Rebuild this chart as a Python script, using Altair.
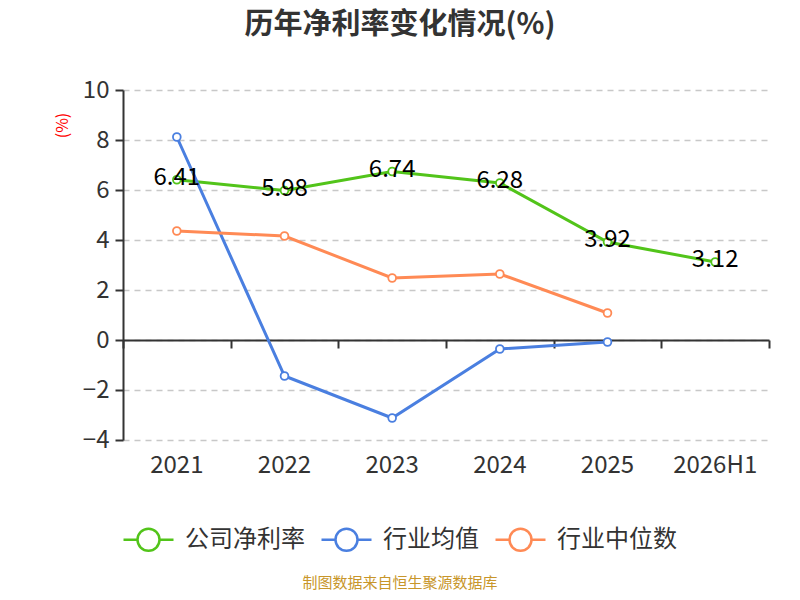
import altair as alt
import pandas as pd

years = ["2021", "2022", "2023", "2024", "2025", "2026H1"]
company = [6.41, 5.98, 6.74, 6.28, 3.92, 3.12]
ind_avg = [8.12, -1.44, -3.12, -0.36, -0.08, None]
ind_med = [4.36, 4.16, 2.48, 2.64, 1.08, None]
series_names = ["公司净利率", "行业均值", "行业中位数"]
colors = ["#52C41A", "#4A7FE0", "#FF8A55"]

rows = []
for s, vals in zip(series_names, [company, ind_avg, ind_med]):
    for y, v in zip(years, vals):
        if v is not None:
            rows.append({"year": y, "value": v, "series": s})
df = pd.DataFrame(rows)
comp_df = pd.DataFrame({"year": years, "value": company})

FONT = "Noto Sans CJK SC"
W, H = 646, 350

xscale = alt.Scale(domain=years, paddingInner=0, paddingOuter=0)
yscale = alt.Scale(domain=[-4, 10], nice=False, zero=False)

color = alt.Color(
    "series:N",
    scale=alt.Scale(domain=series_names, range=colors),
    sort=series_names,
    legend=alt.Legend(
        title=None,
        orient="none",
        legendX=-1,
        legendY=423,
        direction="horizontal",
        symbolType="M-1,0 L-0.44,0 M0.44,0 L1,0 M-0.44,0 A0.44,0.44 0 1,1 0.44,0 A0.44,0.44 0 1,1 -0.44,0",
        symbolSize=2500,
        symbolStrokeWidth=2.5,
        symbolFillColor="white",
        labelFontSize=24,
        labelFont=FONT,
        labelColor="#333333",
        labelOffset=10,
        columnPadding=11,
    ),
)

base = alt.Chart(df)

lines = base.mark_line(strokeWidth=3).encode(
    x=alt.X(
        "year:N",
        scale=xscale,
        sort=years,
        axis=alt.Axis(
            title=None,
            domain=False,
            ticks=False,
            grid=False,
            labelFontSize=24,
            labelFont=FONT,
            labelColor="#333333",
            labelPadding=13,
            labelAngle=0,
        ),
    ),
    y=alt.Y(
        "value:Q",
        scale=yscale,
        axis=alt.Axis(
            title="(%)",
            titleColor="red",
            titleFontSize=16,
            titleFont=FONT,
            titleFontWeight="normal",
            titleAngle=270,
            titleX=62 - 123,
            titleY=35,
            titleAlign="center",
            titleBaseline="middle",
            values=[-4, -2, 0, 2, 4, 6, 8, 10],
            domain=True,
            domainColor="#333333",
            domainWidth=2,
            ticks=True,
            tickColor="#333333",
            tickSize=8,
            tickWidth=2,
            labelFontSize=24,
            labelFont=FONT,
            labelColor="#333333",
            labelPadding=6,
            grid=True,
            gridDash=[6, 5],
            gridColor="#C8C8C8",
            gridWidth=1.5,
        ),
    ),
    color=color,
    order=alt.Order("year:N"),
)

points = base.mark_point(filled=True, fill="white", size=60, strokeWidth=1.8, opacity=1).encode(
    x=alt.X("year:N", scale=xscale, sort=years, axis=None),
    y=alt.Y("value:Q", scale=yscale),
    stroke=alt.Stroke("series:N", scale=alt.Scale(domain=series_names, range=colors), legend=None),
)

labels = alt.Chart(comp_df).mark_text(
    fontSize=24, font=FONT, color="black", baseline="middle", align="center", dy=-2
).encode(
    x=alt.X("year:N", scale=xscale, sort=years, axis=None),
    y=alt.Y("value:Q", scale=yscale),
    text=alt.Text("value:Q", format=".2f"),
)

zero_axis = alt.Chart(comp_df).mark_point(opacity=0).encode(
    x=alt.X(
        "year:N",
        scale=xscale,
        sort=years,
        axis=alt.Axis(
            orient="bottom",
            offset=-100,
            title=None,
            labels=False,
            domain=True,
            domainColor="#333333",
            domainWidth=2,
            ticks=True,
            tickColor="#333333",
            tickWidth=2,
            tickSize=8,
            tickBand="extent",
            grid=False,
        ),
    ),
    y=alt.Y("value:Q", scale=yscale),
)

source = alt.Chart(pd.DataFrame({"t": ["制图数据来自恒生聚源数据库"]})).mark_text(
    fontSize=15, font=FONT, color="#C8962A", align="center", baseline="middle"
).encode(
    x=alt.value(400 - 123),
    y=alt.value(583 - 90),
    text="t:N",
)

chart = (
    alt.layer(lines, points, labels, zero_axis, source)
    .resolve_axis(x="independent")
    .properties(
        width=W,
        height=H,
        autosize=alt.AutoSizeParams(type="none"),
        padding={"left": 115, "top": 82, "right": 23, "bottom": 152},
        title=alt.TitleParams(
            "历年净利率变化情况(%)",
            fontSize=29,
            font=FONT,
            fontWeight="bold",
            color="#333333",
            anchor="middle",
            dx=-46,
            offset=38,
        ),
    )
    .configure_view(stroke=None)
)

chart.save("out.html", embed_options={"renderer": "svg", "actions": False})
